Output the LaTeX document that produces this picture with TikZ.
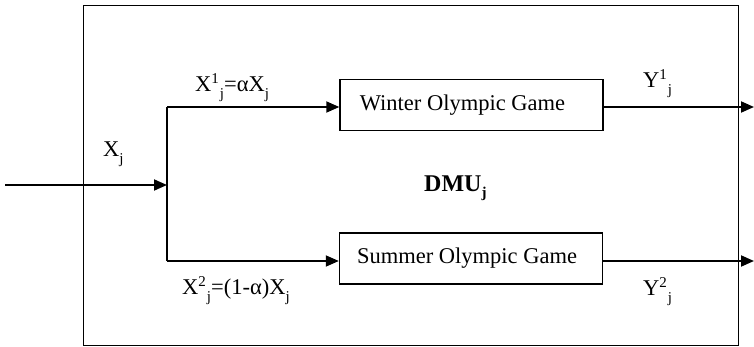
\documentclass[tikz,border=0pt]{standalone}
\usepackage{fontspec}
\setmainfont{Liberation Serif}
\usetikzlibrary{arrows.meta}
\newcommand\mysub[1]{\raisebox{-7pt}{\fontsize{15}{15}\selectfont #1}}
\newcommand\mysupr[1]{\raisebox{8pt}{\fontsize{15}{15}\selectfont #1}}
\newcommand\supj[1]{\mysupr{#1}\kern1pt\mysub{j}}
\tikzset{
  procbox/.style={draw, line width=1.4pt, minimum width=263pt, minimum height=51pt, inner sep=0pt, font=\fontsize{22.5}{26}\selectfont},
  flow/.style={line width=1.8pt, -{Triangle[length=13pt,width=11pt]}},
  plain/.style={line width=1.8pt},
  lbl/.style={anchor=base west, inner sep=0pt, font=\fontsize{22.5}{26}\selectfont}
}
\begin{document}
\begin{tikzpicture}[x=1pt,y=-1pt]
\useasboundingbox (0,0) rectangle (754,347);
\node[draw, line width=1.4pt, minimum width=655pt, minimum height=340pt, inner sep=0pt, anchor=north west] (dmu) at (83,5) {};
\node[procbox] (win) at (471.5,105) {Winter Olympic Game\kern18pt};
\node[procbox] (sum) at (471,258.5) {Summer Olympic Game\kern8pt};
\coordinate (in) at (5,185);
\coordinate (join) at (167,185);
\coordinate (s1) at (167,107);
\coordinate (s2) at (167,261);
\coordinate (out1) at (754,107);
\coordinate (out2) at (754,261);
\draw[flow] (in) -- (join);
\draw[plain] (s1) -- (s2);
\draw[flow] (s1) -- (win.west |- s1);
\draw[flow] (s2) -- (sum.west |- s2);
\draw[flow] (win.east |- out1) -- (out1);
\draw[flow] (sum.east |- out2) -- (out2);
\node[lbl] (lxj) at (103,157) {X\mysub{j}};
\node[lbl] (lx1) at (195,92) {X\supj{1}=αX\mysub{j}};
\node[lbl] (lx2) at (182,294) {X\supj{2}=(1-α)X\mysub{j}};
\node[lbl] (ly1) at (643,88) {Y\supj{1}};
\node[lbl] (ly2) at (643,295) {Y\supj{2}};
\node[lbl, font=\fontsize{24}{28}\selectfont\bfseries] (ldmu) at (424,192) {DMU\raisebox{-6pt}{\fontsize{15}{15}\selectfont\bfseries j}};
\end{tikzpicture}
\end{document}
